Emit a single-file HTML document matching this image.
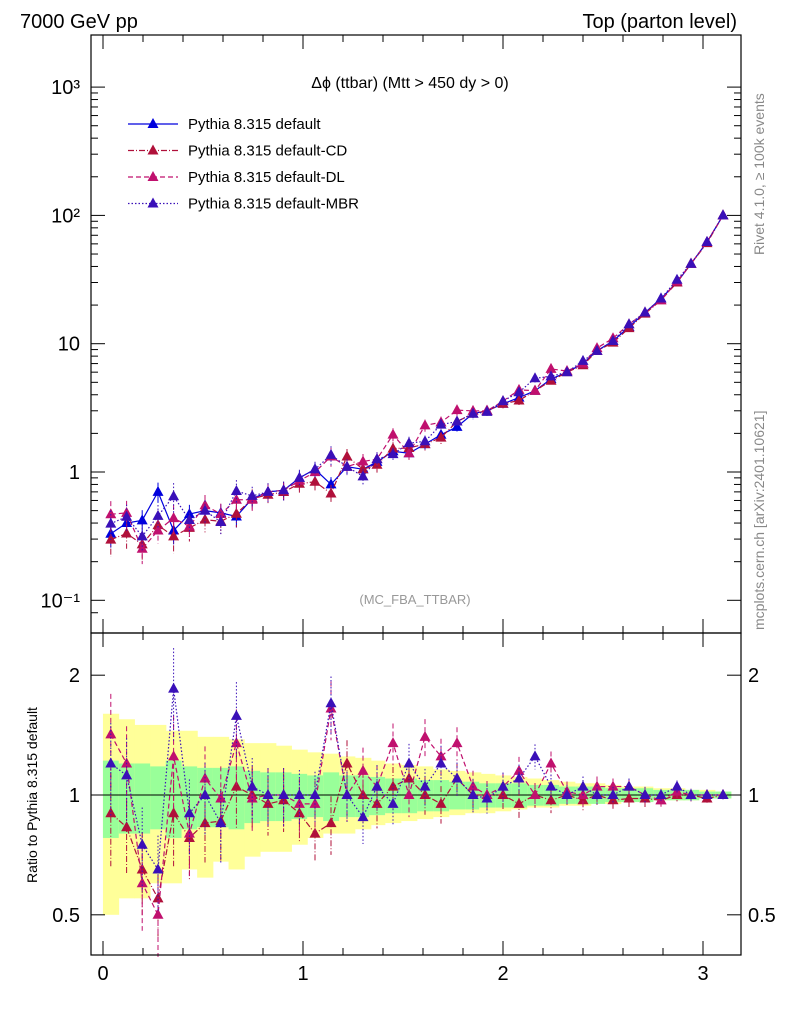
<!DOCTYPE html>
<html><head><meta charset="utf-8"><style>
body{margin:0;background:#fff;}
svg text{font-family:"Liberation Sans",sans-serif;}
</style></head><body>
<svg id="c" width="786" height="1024" xmlns="http://www.w3.org/2000/svg">
<text x="20" y="28" font-size="20">7000 GeV pp</text>
<text x="737" y="28" font-size="20" text-anchor="end">Top (parton level)</text>
<text x="410" y="88" font-size="16" text-anchor="middle">Δϕ (ttbar) (Mtt &gt; 450 dy &gt; 0)</text>
<text x="415" y="604" font-size="13" fill="#999" text-anchor="middle">(MC_FBA_TTBAR)</text>
<text transform="translate(764,255) rotate(-90)" font-size="14" fill="#888">Rivet 4.1.0, ≥ 100k events</text>
<text transform="translate(764,630) rotate(-90)" font-size="14" fill="#888">mcplots.cern.ch [arXiv:2401.10621]</text>
<text transform="translate(37,795) rotate(-90)" font-size="14" text-anchor="middle">Ratio to Pythia 8.315 default</text>
<g id="g"></g>
</svg>
<script>
const xs=[0.039,0.118,0.196,0.275,0.353,0.432,0.51,0.589,0.667,0.746,0.825,0.903,0.982,1.06,1.14,1.22,1.30,1.37,1.45,1.53,1.61,1.69,1.77,1.85,1.92,2.00,2.08,2.16,2.24,2.32,2.40,2.47,2.55,2.63,2.71,2.79,2.87,2.94,3.02,3.10];
const defVals=[0.33,0.40,0.42,0.70,0.35,0.47,0.50,0.48,0.45,0.62,0.70,0.72,0.90,1.05,0.80,1.10,1.05,1.20,1.45,1.40,1.65,1.95,2.25,2.85,3.0,3.4,3.8,4.3,5.3,6.0,7.0,8.8,10.5,13.5,17.5,22.5,30,42,62,100];
const cdRatio=[0.9,0.83,0.65,0.55,0.9,0.78,0.85,0.86,1.05,1.0,0.95,0.97,0.9,0.8,0.85,1.2,1.0,0.95,1.05,1.1,1.0,0.95,1.1,1.0,1.0,1.0,0.95,1.0,0.97,1.0,0.97,1.0,0.97,0.98,0.98,0.97,1.0,1.0,0.98,1.0];
const dlRatio=[1.42,1.2,0.6,0.5,1.25,0.8,1.1,0.98,1.35,0.98,1.0,1.0,0.95,0.95,1.65,1.0,1.15,1.05,1.35,1.0,1.4,1.25,1.35,1.05,1.0,1.05,1.15,1.0,1.2,1.02,1.0,1.05,1.05,1.05,1.0,0.97,1.02,1.0,1.0,1.0];
const mbrRatio=[1.2,1.12,0.75,0.65,1.85,0.9,1.0,0.85,1.58,1.05,1.0,1.0,1.0,1.0,1.7,1.0,0.88,1.05,0.95,1.2,1.05,1.2,1.1,1.0,0.98,1.05,1.1,1.25,1.05,1.0,1.05,1.0,1.0,1.05,1.0,1.0,1.05,1.0,1.0,1.0];
const relErr=[0.22,0.2,0.2,0.18,0.22,0.18,0.17,0.17,0.18,0.15,0.14,0.14,0.13,0.12,0.14,0.12,0.12,0.11,0.1,0.1,0.09,0.09,0.08,0.08,0.07,0.07,0.07,0.06,0.06,0.05,0.05,0.05,0.04,0.04,0.04,0.03,0.03,0.03,0.02,0.02];
const bandLo=[0.5,0.55,0.55,0.6,0.6,0.65,0.62,0.68,0.65,0.7,0.72,0.72,0.75,0.78,0.8,0.8,0.82,0.84,0.85,0.86,0.87,0.88,0.89,0.9,0.9,0.91,0.92,0.93,0.93,0.94,0.94,0.95,0.95,0.96,0.96,0.97,0.97,0.97,0.98,0.98];
const bandHi=[1.6,1.55,1.5,1.5,1.45,1.45,1.4,1.4,1.38,1.35,1.35,1.33,1.3,1.28,1.27,1.25,1.24,1.22,1.2,1.19,1.18,1.16,1.15,1.14,1.13,1.12,1.11,1.1,1.09,1.08,1.07,1.07,1.06,1.05,1.05,1.04,1.04,1.03,1.03,1.02];
const mainTicks=[0.1,1,10,100,1000];
const mainTickLabels=["10⁻¹","1","10","10²","10³"];
const ratioTicks=[0.5,1,2];
const xTicks=[0,1,2,3];
const L=91,R=741,T=35,MB=633,RB=955;
const X=v=>103+200*v;
const YM=v=>472-128.3*Math.log10(v);
const YR=v=>795-398*Math.log10(v);
const g=document.getElementById('g');
const NS='http://www.w3.org/2000/svg';
function el(t,a,p){const e=document.createElementNS(NS,t);for(const k in a)e.setAttribute(k,a[k]);(p||g).appendChild(e);return e;}
const hw=Math.PI/80;
// bands
xs.forEach((x,i)=>{
 const y=el('rect',{x:X(x-hw),width:X(x+hw)-X(x-hw)+0.5,y:YR(Math.min(bandHi[i],2.4)),height:YR(bandLo[i])-YR(Math.min(bandHi[i],2.4)),fill:'#ffff99'});
 
 
 const gr=el('rect',{x:X(x-hw),width:X(x+hw)-X(x-hw)+0.5,y:YR(1+relErr[i]),height:YR(1-relErr[i])-YR(1+relErr[i]),fill:'#99ff99'});
 
 
});
el('line',{x1:L,x2:R,y1:YR(1),y2:YR(1),stroke:'#000','stroke-width':1});
const series=[
 {name:'default',col:'#0000dd',dash:'',ratio:null},
 {name:'default-CD',col:'#b0103a',dash:'6,2,1,2',ratio:cdRatio},
 {name:'default-DL',col:'#c0106e',dash:'5,3',ratio:dlRatio},
 {name:'default-MBR',col:'#3a10b8',dash:'1.5,2',ratio:mbrRatio}];
function tri(x,y,c,nm){const p=el('polygon',{points:`${x},${y-6} ${x-5.5},${y+4} ${x+5.5},${y+4}`,fill:c});}
series.forEach((s,si)=>{
 const r=s.ratio||xs.map(()=>1);
 const vals=defVals.map((v,i)=>v*r[i]);
 let pm='',pr='';
 xs.forEach((x,i)=>{
  const e=relErr[i]*(si?1.2:1);
  const v=vals[i];
  pm+=(i?'L':'M')+X(x)+','+YM(v);
  el('line',{x1:X(x),x2:X(x),y1:YM(v*(1+e)),y2:YM(v*(1-e)),stroke:s.col,'stroke-width':1,'stroke-dasharray':s.dash});
  tri(X(x),YM(v),s.col,'marker-'+s.name);
  if(si){
   pr+=(i?'L':'M')+X(x)+','+YR(r[i]);
   el('line',{x1:X(x),x2:X(x),y1:YR(Math.min(r[i]*(1+e),2.4)),y2:YR(Math.max(r[i]*(1-e),0.35)),stroke:s.col,'stroke-width':1,'stroke-dasharray':s.dash});
   tri(X(x),YR(r[i]),s.col,'ratio-marker-'+s.name);
  }
 });
 const l=el('path',{d:pm,fill:'none',stroke:s.col,'stroke-width':1.2,'stroke-dasharray':s.dash});
 
 
 if(si){const lr=el('path',{d:pr,fill:'none',stroke:s.col,'stroke-width':1.2,'stroke-dasharray':s.dash});
 
 }
 // legend
 const ly=124+26.5*si;
 el('line',{x1:128,x2:178,y1:ly,y2:ly,stroke:s.col,'stroke-width':1.2,'stroke-dasharray':s.dash});
 tri(153,ly,s.col,'legend-marker');
 const t=el('text',{x:188,y:ly+5,'font-size':15});t.textContent='Pythia 8.315 '+s.name;
 
 
});
// frames
el('rect',{x:L,y:T,width:R-L,height:MB-T,fill:'none',stroke:'#000','stroke-width':1.2});
el('rect',{x:L,y:MB,width:R-L,height:RB-MB,fill:'none',stroke:'#000','stroke-width':1.2});
// main y ticks
mainTicks.forEach((v,i)=>{const y=YM(v);
 el('line',{x1:L,x2:L+14,y1:y,y2:y,stroke:'#000'});el('line',{x1:R,x2:R-14,y1:y,y2:y,stroke:'#000'});
 const t=el('text',{x:80,y:y+7,'font-size':20,'text-anchor':'end'});t.textContent=mainTickLabels[i];
 
 
 if(v<1000)for(let k=2;k<10;k++){const yy=YM(v*k);if(yy>T){el('line',{x1:L,x2:L+7,y1:yy,y2:yy,stroke:'#000'});el('line',{x1:R,x2:R-7,y1:yy,y2:yy,stroke:'#000'});}}
});
el('line',{x1:L,x2:L+7,y1:YM(0.08),y2:YM(0.08),stroke:'#000'});
ratioTicks.forEach(v=>{const y=YR(v);
 el('line',{x1:L,x2:L+14,y1:y,y2:y,stroke:'#000'});el('line',{x1:R,x2:R-14,y1:y,y2:y,stroke:'#000'});
 const t=el('text',{x:80,y:y+7,'font-size':20,'text-anchor':'end'});t.textContent=String(v);
 
 
 const t2=el('text',{x:748,y:y+7,'font-size':20});t2.textContent=String(v);
 
 
});
xTicks.forEach(v=>{const x=X(v);
 [T,MB].forEach(y=>el('line',{x1:x,x2:x,y1:y,y2:y+14,stroke:'#000'}));
 [MB,RB].forEach(y=>el('line',{x1:x,x2:x,y1:y,y2:y-14,stroke:'#000'}));
 const t=el('text',{x:x,y:980,'font-size':20,'text-anchor':'middle'});t.textContent=String(v);
 
 
 for(let k=1;k<5;k++){const xx=X(v+k*0.2);if(xx<R){[T,MB].forEach(y=>el('line',{x1:xx,x2:xx,y1:y,y2:y+7,stroke:'#000'}));[MB,RB].forEach(y=>el('line',{x1:xx,x2:xx,y1:y,y2:y-7,stroke:'#000'}));}}
});
</script>
</body></html>
